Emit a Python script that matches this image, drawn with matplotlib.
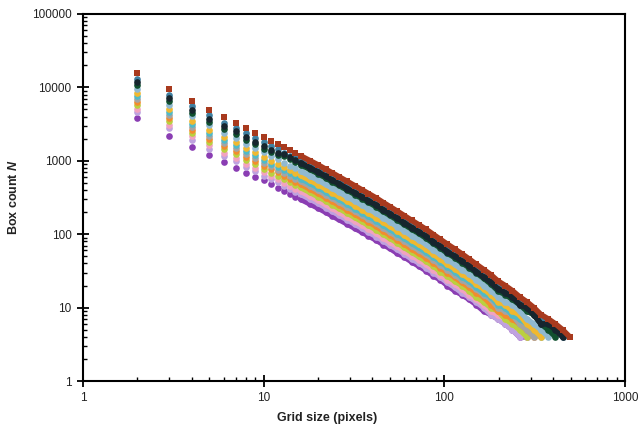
import matplotlib
matplotlib.use('Agg')
import matplotlib.pyplot as plt
from matplotlib.ticker import LogLocator, NullFormatter, FuncFormatter

plt.rcParams['font.family'] = ['Liberation Sans', 'DejaVu Sans']
plt.rcParams['mathtext.fontset'] = 'custom'
plt.rcParams['mathtext.bfit'] = 'Liberation Sans:italic:bold'

grid_sizes = [2, 3, 4, 5, 6, 7, 8, 9, 10, 11, 12, 13, 14, 15, 16, 18, 20, 22, 24, 26,
              29, 32, 35, 38, 42, 46, 50, 55, 60, 66, 72, 79, 87, 95, 104, 114, 125,
              137, 150, 165, 181, 198, 217, 238, 261, 286, 313, 343, 376, 412, 451, 494]

brown = [15500, 9400, 6500, 4900, 3900, 3300, 2770, 2410, 2100, 1860, 1690, 1525, 1387,
         1270, 1170, 1007, 879, 771, 682, 610, 524, 456, 402, 358, 311, 269, 237, 205,
         179, 154, 135, 117, 99, 85, 73, 63, 54, 46, 39, 33, 28, 23, 20, 17, 14, 12,
         10, 8, 7, 6, 5, 4]
steel = [13200, 7990, 5525, 4165, 3315, 2805, 2355, 2049, 1785, 1581, 1437, 1296, 1179,
         1080, 995, 856, 747, 655, 580, 519, 445, 388, 342, 304, 264, 229, 201, 174,
         152, 131, 115, 99, 84, 72, 62, 54, 46, 39, 33, 28, 24, 20, 17, 14, 12, 10, 9,
         7, 6, 5, 4]
black = [11800, 7140, 4940, 3720, 2960, 2510, 2105, 1830, 1600, 1415, 1285, 1220, 1110,
         1016, 936, 806, 703, 617, 546, 488, 419, 365, 322, 286, 249, 215, 190, 164,
         143, 123, 108, 94, 79, 68, 58, 50, 43, 37, 31, 26, 22, 18, 16, 14, 11, 10, 8,
         6, 6, 5, 4]
dkgreen = [10850, 6580, 4550, 3430, 2730, 2310, 1940, 1690, 1470, 1300, 1183, 1160, 1054,
           965, 889, 765, 668, 586, 518, 464, 398, 347, 306, 272, 236, 204, 180, 156,
           136, 117, 103, 89, 75, 65, 55, 48, 41, 35, 30, 25, 21, 17, 15, 13, 11, 9, 8,
           6, 5, 4]
ltblue = [9610, 5830, 4030, 3040, 2420, 2046, 1717, 1494, 1302, 1153, 1048, 946, 860,
          787, 725, 624, 545, 478, 423, 378, 325, 283, 249, 222, 193, 167, 147, 127,
          111, 95, 84, 73, 61, 53, 45, 39, 33, 29, 24, 20, 17, 14, 12, 11, 9, 7, 6, 5, 4]
gold = [8370, 5076, 3510, 2646, 2106, 1782, 1496, 1301, 1134, 1004, 913, 824, 749, 686,
        632, 544, 475, 416, 368, 329, 283, 246, 217, 193, 168, 145, 128, 111, 97, 83,
        73, 63, 53, 46, 39, 34, 29, 25, 21, 18, 15, 12, 11, 9, 8, 6, 5, 4]
cyan = [7600, 4606, 3185, 2401, 1911, 1617, 1357, 1181, 1029, 911, 828, 747, 680, 622,
        573, 493, 431, 378, 334, 299, 257, 223, 197, 175, 152, 132, 116, 100, 88, 75,
        66, 57, 49, 42, 36, 31, 26, 23, 19, 16, 14, 11, 10, 8, 7, 6, 5, 4]
gray = [6975, 4230, 2925, 2205, 1755, 1485, 1247, 1085, 945, 837, 761, 686, 624, 572,
        527, 453, 396, 347, 307, 275, 236, 205, 181, 161, 140, 121, 107, 92, 81, 69,
        61, 53, 45, 38, 33, 28, 24, 21, 18, 15, 13, 10, 9, 8, 6, 5, 4]
orange = [6355, 3854, 2665, 2009, 1599, 1353, 1136, 988, 861, 763, 693, 625, 569, 521,
          480, 413, 360, 316, 280, 250, 215, 187, 165, 147, 128, 110, 97, 84, 73, 63,
          55, 48, 41, 35, 30, 26, 22, 19, 16, 14, 11, 9, 8, 7, 6, 5, 4]
ygreen = [5735, 3478, 2405, 1813, 1443, 1221, 1025, 892, 777, 688, 625, 564, 513, 470,
          433, 373, 325, 285, 252, 226, 194, 169, 149, 132, 115, 100, 88, 76, 66, 57,
          50, 43, 37, 31, 27, 23, 20, 17, 14, 12, 10, 9, 7, 6, 5, 4]
pink = [5115, 3102, 2145, 1617, 1287, 1089, 914, 795, 693, 614, 558, 503, 458, 419,
        386, 332, 290, 254, 225, 201, 173, 150, 133, 118, 103, 89, 78, 68, 59, 51, 45,
        39, 33, 28, 24, 21, 18, 15, 13, 11, 9, 8, 7, 6, 5, 4]
lavender = [4650, 2820, 1950, 1470, 1170, 990, 831, 723, 630, 558, 507, 458, 416, 381,
            351, 302, 264, 231, 205, 183, 157, 137, 121, 107, 93, 81, 71, 62, 54, 46,
            41, 35, 30, 26, 22, 19, 16, 14, 12, 10, 8, 7, 6, 5, 4]
purple = [3800, 2180, 1560, 1200, 970, 810, 690, 600, 540, 480, 430, 389, 355, 325, 300,
          259, 227, 200, 178, 159, 138, 120, 107, 95, 83, 72, 64, 55, 49, 42, 37, 32, 27,
          24, 20, 17, 15, 13, 11, 9, 8, 7, 6, 5, 4, 4]

series = [
    (purple, '#8a3db3', 'o'),
    (lavender, '#bfa2df', 'o'),
    (pink, '#f2a2c0', 'o'),
    (ygreen, '#bad040', 'o'),
    (orange, '#f28c2e', 'o'),
    (gray, '#a4a4a4', 'o'),
    (cyan, '#50bac8', 'o'),
    (gold, '#f0b830', 'o'),
    (ltblue, '#90b9d0', 'o'),
    (steel, '#3f7fa0', 'o'),
    (dkgreen, '#10502e', 'o'),
    (black, '#16252e', 'o'),
    (brown, '#a83a1e', 's'),
]

# index from which consecutive boxes are so dense that the marks merge into a band
dense_from = 14

fig = plt.figure(figsize=(6.39, 4.32), dpi=100)
ax = fig.add_axes([83 / 639, 1 - 381 / 432, (625 - 83) / 639, (381 - 14) / 432])

for k, (vals, color, marker) in enumerate(series):
    xs = grid_sizes[:len(vals)]
    ax.plot(xs[dense_from:], vals[dense_from:], linestyle='-', linewidth=4.0,
            solid_capstyle='round', solid_joinstyle='round', color=color, zorder=3 + k)
    ax.plot(xs, vals, linestyle='none', marker=marker,
            markersize=4.8, color=color, markeredgewidth=0, zorder=3 + k)

ax.set_xscale('log')
ax.set_yscale('log')
ax.set_xlim(1, 1000)
ax.set_ylim(1, 100000)

fmt = FuncFormatter(lambda v, p: f'{v:g}')
for axis in (ax.xaxis, ax.yaxis):
    axis.set_major_locator(LogLocator(base=10, numticks=10))
    axis.set_minor_locator(LogLocator(base=10, subs=range(2, 10), numticks=20))
    axis.set_major_formatter(fmt)
    axis.set_minor_formatter(NullFormatter())

ax.tick_params(which='major', direction='inout', length=8.5, width=1.3,
               labelsize=8.5, color='black', labelcolor='#222222')
ax.tick_params(which='minor', direction='in', length=2.6, width=1.0, color='black')
ax.tick_params(axis='x', which='major', pad=4)
ax.tick_params(axis='y', which='major', pad=4)
for sp in ax.spines.values():
    sp.set_linewidth(1.5)
    sp.set_color('black')
    sp.set_zorder(30)

ax.set_xlabel('Grid size (pixels)', fontsize=9, fontweight='bold', color='#222222')
ax.xaxis.set_label_coords((327 - 83) / 542, -0.085)
ax.set_ylabel(r'Box count $\mathbfit{N}$', fontsize=9, fontweight='bold', color='#222222')
ax.yaxis.set_label_coords(-0.116, 0.5)

fig.savefig('out.png', dpi=100)
